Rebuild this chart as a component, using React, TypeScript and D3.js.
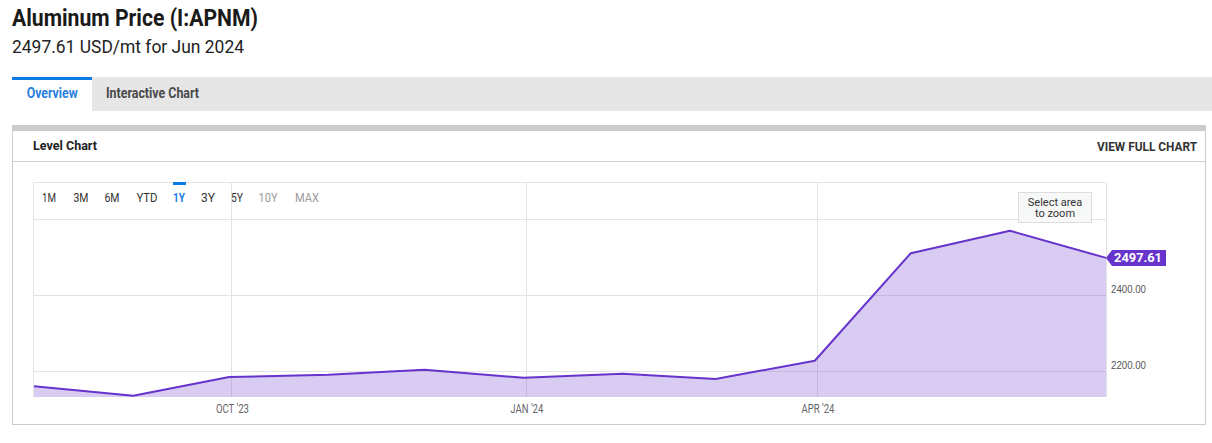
import React from "react";
import * as d3 from "d3";

const months = ["2023-07","2023-08","2023-09","2023-10","2023-11","2023-12","2024-01","2024-02","2024-03","2024-04","2024-05","2024-06"];
const prices = [2160, 2135, 2184, 2190, 2203, 2182, 2193, 2179, 2227, 2510, 2569, 2497.61];
const yGridTicks = [2200, 2400, 2600];
const yTickLabels = [2200, 2400];
const xTickDates = ["2023-10-01", "2024-01-01", "2024-04-01"];
const rangeButtons = ["1M","3M","6M","YTD","1Y","3Y","5Y","10Y","MAX"];

const W = 1212, H = 443;
const PL = 34, PR = 1106, PT = 183, PB = 397;

const parseMonth = d3.timeParse("%Y-%m");
const parseDay = d3.timeParse("%Y-%m-%d");
const monthEnd = (m: string) => d3.timeDay.offset(d3.timeMonth.offset(parseMonth(m)!, 1), -1);

const data = months.map((m, i) => ({ date: monthEnd(m), value: prices[i] }));

const x = d3.scaleTime()
  .domain([data[0].date, data[data.length - 1].date])
  .range([PL, PR]);
const y = d3.scaleLinear().domain([2131.6, 2694.7]).range([PB, PT]);

const fmtTick = (d: Date) => {
  const m = d3.timeFormat("%b")(d).toUpperCase();
  return `${m} '${d3.timeFormat("%y")(d)}`;
};

export default function App() {
  const line = d3.line<{ date: Date; value: number }>().x(d => x(d.date)).y(d => y(d.value));
  const area = d3.area<{ date: Date; value: number }>().x(d => x(d.date)).y0(PB).y1(d => y(d.value));
  const last = data[data.length - 1];
  const ly = y(last.value);
  const btnX = [49, 81, 112, 147, 179, 208, 237, 268, 307];
  const btnW = [14, 15, 15, 21, 12, 14, 12, 19, 24];
  const btnColor = (b: string) => (b === "1Y" ? "#1a7fe0" : b === "10Y" || b === "MAX" ? "#9a9a9a" : "#333");
  return (
    <svg width={W} height={H} style={{ position: "absolute", left: 0, top: 0, fontFamily: "Roboto" }}>
      <rect x={0} y={0} width={W} height={H} fill="#fff" />
      {/* header */}
      <text x={12} y={26} fontSize={24} fontWeight={700} fill="#1a1a1a" textLength={246} lengthAdjust="spacingAndGlyphs">Aluminum Price (I:APNM)</text>
      <text x={12} y={53} fontSize={18.5} fill="#222" textLength={232} lengthAdjust="spacingAndGlyphs">2497.61 USD/mt for Jun 2024</text>
      {/* tabs */}
      <rect x={12} y={77} width={W - 12} height={34} fill="#e6e6e6" />
      <rect x={12} y={77} width={80} height={34} fill="#fff" />
      <rect x={12} y={77} width={80} height={3} fill="#0a7be0" />
      <text x={26.7} y={97.5} fontSize={15} fontWeight={700} fill="#2a80e0" textLength={51} lengthAdjust="spacingAndGlyphs">Overview</text>
      <text x={106} y={97.5} fontSize={15} fontWeight={700} fill="#4a4a4a" textLength={93} lengthAdjust="spacingAndGlyphs">Interactive Chart</text>
      {/* card */}
      <rect x={12.5} y={125.5} width={1193} height={299} fill="#fff" stroke="#cccccc" />
      <rect x={12} y={125} width={1194} height={6} fill="#cccccc" />
      <line x1={13} x2={1205} y1={161.5} y2={161.5} stroke="#d0d0d0" />
      <text x={33} y={150} fontSize={13} fontWeight={700} fill="#222" textLength={64} lengthAdjust="spacingAndGlyphs">Level Chart</text>
      <text x={1197} y={151} textAnchor="end" fontSize={12} fontWeight={700} fill="#333" textLength={100} lengthAdjust="spacingAndGlyphs">VIEW FULL CHART</text>
      {/* plot gridlines */}
      {yGridTicks.map(t => (
        <line key={t} x1={PL} x2={PR} y1={Math.round(y(t)) + 0.5} y2={Math.round(y(t)) + 0.5} stroke="#e3e3e3" />
      ))}
      {xTickDates.map(d => {
        const xx = Math.round(x(parseDay(d)!)) - 0.5;
        return <line key={d} x1={xx} x2={xx} y1={PT} y2={PB} stroke="#e3e3e3" />;
      })}
      <path d={area(data)!} fill="#6633cc" fillOpacity={0.25} />
      <path d={line(data)!} fill="none" stroke="#6633cc" strokeWidth={2} strokeLinejoin="round" />
      {/* plot borders */}
      <line x1={PL - 0.5} x2={PR + 0.5} y1={PT - 0.5} y2={PT - 0.5} stroke="#e3e3e3" />
      <line x1={PL - 0.5} x2={PL - 0.5} y1={PT} y2={PB} stroke="#e3e3e3" />
      <line x1={PR + 0.5} x2={PR + 0.5} y1={PT} y2={PB} stroke="#e3e3e3" />
      {/* range buttons */}
      {rangeButtons.map((b, i) => (
        <text key={b} x={btnX[i]} y={201.5} textAnchor="middle" fontSize={12} fontWeight={b === "1Y" ? 700 : 400} fill={btnColor(b)} textLength={btnW[i]} lengthAdjust="spacingAndGlyphs">{b}</text>
      ))}
      <rect x={173} y={182} width={13} height={3} fill="#0a7be0" />
      {/* select area box */}
      <rect x={1018.5} y={192.5} width={73} height={30} fill="#f7f8f8" stroke="#dddddd" />
      <text x={1055} y={205.5} textAnchor="middle" fontSize={11} fill="#333">Select area</text>
      <text x={1055} y={217} textAnchor="middle" fontSize={11} fill="#333">to zoom</text>
      {/* x tick labels */}
      {xTickDates.map(d => (
        <text key={d} x={x(parseDay(d)!)} y={413} textAnchor="middle" fontSize={12} fill="#666" textLength={33} lengthAdjust="spacingAndGlyphs">{fmtTick(parseDay(d)!)}</text>
      ))}
      {/* y tick labels */}
      {yTickLabels.map(t => (
        <text key={t} x={1111} y={y(t) - 2} fontSize={11} fill="#555" fontFamily="Liberation Sans, Arial" textLength={35} lengthAdjust="spacingAndGlyphs">{t.toFixed(2)}</text>
      ))}
      {/* last value label */}
      <path d={`M${PR},${ly} L${PR + 6},${ly - 8} L${PR + 60},${ly - 8} L${PR + 60},${ly + 8} L${PR + 6},${ly + 8} Z`} fill="#6633cc" />
      <text x={PR + 8} y={ly + 4.5} fontSize={12.5} fontWeight={700} fill="#fff" textLength={48} lengthAdjust="spacingAndGlyphs">{last.value.toFixed(2)}</text>
    </svg>
  );
}
